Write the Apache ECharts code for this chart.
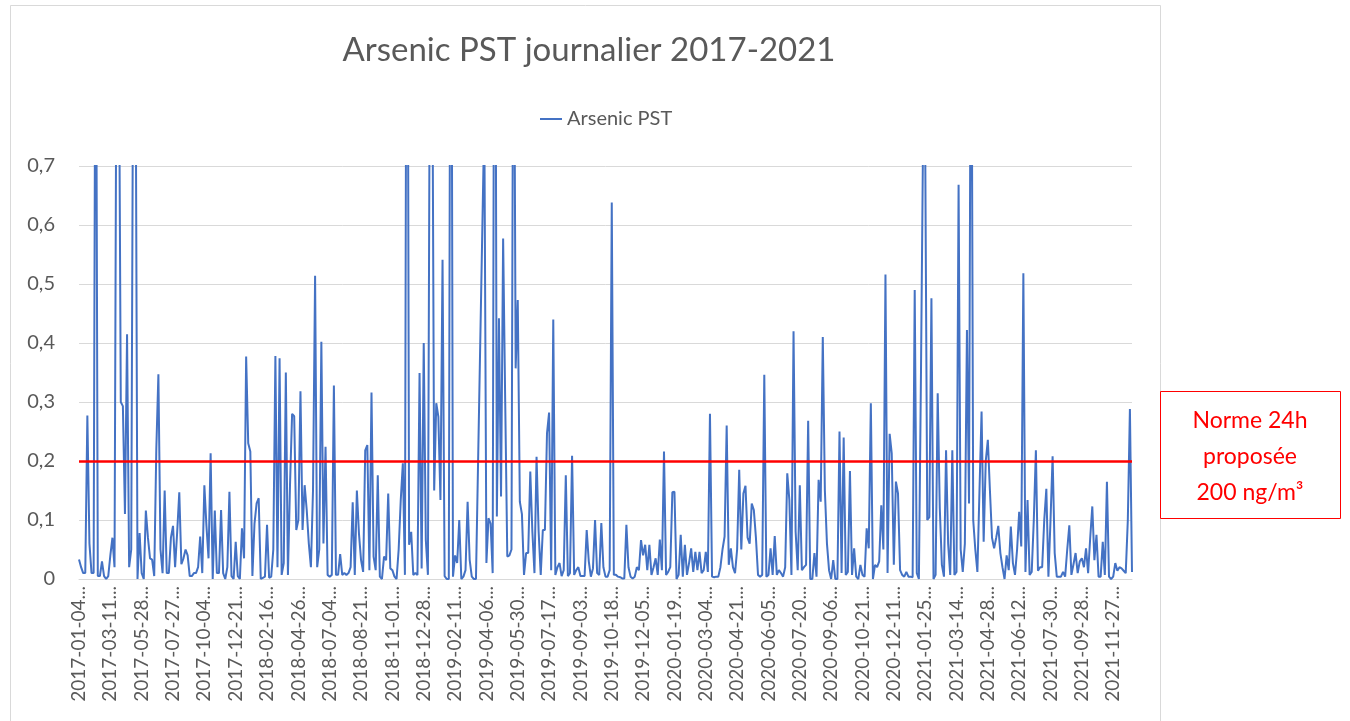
<!DOCTYPE html>
<html>
<head>
<meta charset="utf-8">
<script src="https://cdn.jsdelivr.net/npm/echarts@6/dist/echarts.min.js"></script>
<style>
  html, body { margin: 0; padding: 0; background: #fff; }
  #chart { width: 1350px; height: 721px; }
</style>
</head>
<body>
<div id="chart"></div>
<script>
// one label every 15 samples, as in the source sheet
const LABEL_STEP = 15;

const tickLabels = [
  '2017-01-04', '2017-03-11', '2017-05-28', '2017-07-27', '2017-10-04', '2017-12-21',
  '2018-02-16', '2018-04-26', '2018-07-04', '2018-08-21', '2018-11-01', '2018-12-28',
  '2019-02-11', '2019-04-06', '2019-05-30', '2019-07-17', '2019-09-03', '2019-10-18',
  '2019-12-05', '2020-01-19', '2020-03-04', '2020-04-21', '2020-06-05', '2020-07-20',
  '2020-09-06', '2020-10-21', '2020-12-11', '2021-01-25', '2021-03-14', '2021-04-28',
  '2021-06-12', '2021-07-30', '2021-09-28', '2021-11-27'
];

const yTicks = [0, 0.1, 0.2, 0.3, 0.4, 0.5, 0.6, 0.7];

// proposed 24h standard (ug/m3 -> 200 ng/m3)
const normValue = 0.2;

// Arsenic PST, one row per label period (null = no sample)
const arsenicPST = [
  0.033, 0.02, 0.01, 0.01, 0.277, 0.06, 0.01, 0.01, 1.2, 0.005, 0.005, 0.03, 0.005, 0.0, 0.005,
  0.04, 0.07, 0.02, 1.0, 1.0, 0.30, 0.293, 0.11, 0.415, 0.02, 0.05, 1.0, 1.0, 0.0, 0.078,
  0.01, 0.0, 0.116, 0.07, 0.035, 0.033, 0.005, 0.22, 0.347, 0.05, 0.01, 0.15, 0.01, 0.01, 0.07,
  0.09, 0.02, 0.08, 0.147, 0.025, 0.035, 0.05, 0.04, 0.005, 0.005, 0.01, 0.01, 0.02, 0.072, 0.01,
  0.159, 0.09, 0.035, 0.213, 0.0, 0.116, 0.01, 0.01, 0.117, 0.01, 0.0, 0.02, 0.148, 0.005, 0.0,
  0.063, 0.005, 0.0, 0.086, 0.035, 0.377, 0.23, 0.216, 0.005, 0.094, 0.128, 0.137, 0.0, 0.002, 0.004,
  0.092, 0.002, 0.004, 0.05, 0.378, 0.02, 0.374, 0.007, 0.027, 0.35, 0.007, 0.16, 0.28, 0.276, 0.083,
  0.1, 0.318, 0.083, 0.159, 0.117, 0.06, 0.02, 0.15, 0.514, 0.02, 0.05, 0.402, 0.06, 0.224, 0.007,
  0.004, 0.007, 0.328, 0.007, 0.007, 0.042, 0.007, 0.01, 0.007, 0.01, 0.02, 0.13, 0.007, 0.15, 0.077,
  0.032, 0.012, 0.218, 0.227, 0.015, 0.316, 0.038, 0.015, 0.176, 0.004, 0.0, 0.038, 0.032, 0.145, 0.018,
  0.015, 0.004, 0.0, 0.05, 0.134, 0.196, 0.007, 1.5, 0.058, 0.08, 0.007, 0.01, 0.007, 0.349, 0.018,
  0.4, 0.066, 0.007, 1.0, 1.0, 0.15, 0.298, 0.275, 0.134, 0.541, 0.005, 0.0, 0.0, 1.5, 0.004,
  0.04, 0.027, 0.1, 0.0, 0.004, 0.015, 0.131, 0.032, 0.004, 0.0, 0.0, null, null, null, 0.78,
  0.027, 0.103, 0.094, 0.01, 1.5, 0.106, 0.442, 0.14, 0.577, 0.3, 0.038, 0.04, 0.05, 1.2, 0.357,
  0.473, 0.131, 0.11, 0.007, 0.044, 0.044, 0.182, 0.08, 0.01, 0.207, 0.08, 0.007, 0.083, 0.083, 0.247,
  0.282, 0.015, 0.44, 0.007, 0.02, 0.027, 0.005, 0.015, 0.176, 0.005, 0.01, 0.209, 0.007, 0.015, 0.02,
  0.005, 0.005, 0.005, 0.083, 0.03, 0.004, 0.018, 0.1, 0.01, 0.007, 0.095, 0.02, 0.004, 0.004, 0.015,
  0.638, 0.007, 0.007, 0.004, 0.003, 0.001, 0.001, 0.092, 0.02, 0.004, 0.001, 0.004, 0.02, 0.015, 0.066,
  0.04, 0.058, 0.015, 0.058, 0.007, 0.02, 0.035, 0.007, 0.067, 0.015, 0.216, 0.007, 0.012, 0.02, 0.147,
  0.148, 0.0, 0.007, 0.075, 0.004, 0.058, 0.007, 0.027, 0.052, 0.012, 0.046, 0.015, 0.046, 0.01, 0.015,
  0.046, 0.012, 0.28, 0.004, 0.003, 0.004, 0.004, 0.02, 0.05, 0.072, 0.26, 0.024, 0.052, 0.02, 0.01,
  0.05, 0.185, 0.05, 0.145, 0.158, 0.07, 0.06, 0.128, 0.117, 0.07, 0.007, 0.004, 0.007, 0.346, 0.004,
  0.007, 0.052, 0.007, 0.073, 0.007, 0.015, 0.01, 0.004, 0.02, 0.179, 0.134, 0.007, 0.42, 0.08, 0.015,
  0.159, 0.015, 0.02, 0.024, 0.268, 0.0, 0.0, 0.044, 0.004, 0.168, 0.131, 0.41, 0.15, 0.06, 0.015,
  0.0, 0.032, 0.0, 0.0, 0.25, 0.01, 0.24, 0.007, 0.012, 0.183, 0.007, 0.052, 0.004, 0.0, 0.024,
  0.007, 0.004, 0.086, 0.052, 0.298, 0.0, 0.024, 0.02, 0.03, 0.125, 0.05, 0.516, 0.01, 0.246, 0.213,
  0.024, 0.165, 0.145, 0.015, 0.007, 0.004, 0.012, 0.004, 0.004, 0.003, 0.49, 0.01, 0.0, 0.35, 0.75,
  0.75, 0.1, 0.105, 0.476, 0.0, 0.007, 0.315, 0.12, 0.024, 0.004, 0.218, 0.06, 0.007, 0.218, 0.007,
  0.012, 0.668, 0.05, 0.012, 0.06, 0.422, 0.128, 1.2, 0.1, 0.05, 0.012, 0.15, 0.284, 0.063, 0.2,
  0.236, 0.15, 0.07, 0.052, 0.07, 0.09, 0.044, 0.02, 0.0, 0.04, 0.015, 0.089, 0.027, 0.007, 0.05,
  0.114, 0.055, 0.518, 0.012, 0.134, 0.007, 0.012, 0.1, 0.218, 0.014, 0.02, 0.02, 0.1, 0.153, 0.004,
  0.1, 0.208, 0.044, 0.004, 0.004, 0.004, 0.012, 0.004, 0.05, 0.091, 0.007, 0.025, 0.044, 0.01, 0.03,
  0.035, 0.02, 0.052, 0.01, 0.07, 0.123, 0.032, 0.075, 0.004, 0.004, 0.063, 0.007, 0.165, 0.004, 0.0,
  0.004, 0.027, 0.014, 0.02, 0.018, 0.014, 0.01, 0.1, 0.288, 0.012
];

const categories = arsenicPST.map((_, i) => String(i));

const FONT = 'Lato, "Open Sans", sans-serif';
const GREY = '#595959';

const chart = echarts.init(document.getElementById('chart'), null, { renderer: 'canvas' });

chart.setOption({
  animation: false,
  backgroundColor: '#fff',
  textStyle: { fontFamily: FONT },
  title: {
    text: 'Arsenic PST journalier 2017-2021',
    left: 584,
    textAlign: 'center',
    top: 29,
    textStyle: { fontFamily: FONT, fontSize: 33, fontWeight: 'normal', color: GREY }
  },
  legend: {
    data: ['Arsenic PST'],
    left: 535,
    top: 104,
    icon: 'rect',
    itemWidth: 22,
    itemHeight: 2,
    itemGap: 6,
    textStyle: { fontFamily: FONT, fontSize: 20, color: GREY }
  },
  grid: {
    left: 79,
    right: 218,
    top: 166,
    bottom: 142,
    containLabel: false
  },
  xAxis: {
    type: 'category',
    data: categories,
    boundaryGap: false,
    axisLine: { lineStyle: { color: '#d9d9d9', width: 1 } },
    axisTick: { show: false },
    splitLine: { show: false },
    axisLabel: {
      rotate: 90,
      interval: LABEL_STEP - 1,
      margin: 7,
      fontFamily: FONT,
      fontSize: 19,
      color: GREY,
      formatter: (value, index) => {
        const k = index / LABEL_STEP;
        return Number.isInteger(k) && tickLabels[k] ? tickLabels[k] + '...' : '';
      }
    }
  },
  yAxis: {
    type: 'value',
    min: yTicks[0],
    max: yTicks[yTicks.length - 1],
    interval: 0.1,
    axisLine: { show: false },
    axisTick: { show: false },
    splitLine: { lineStyle: { color: '#d9d9d9', width: 1 } },
    axisLabel: {
      margin: 24,
      fontFamily: FONT,
      fontSize: 20,
      color: GREY,
      formatter: (v) => (v === 0 ? '0' : v.toFixed(1).replace('.', ','))
    }
  },
  series: [
    {
      name: 'Arsenic PST',
      type: 'line',
      data: arsenicPST,
      symbol: 'none',
      connectNulls: true,
      clip: true,
      color: '#4472C4',
      lineStyle: { color: '#4472C4', width: 2 },
      markLine: {
        silent: true,
        symbol: ['none', 'none'],
        label: { show: false },
        lineStyle: { color: '#ff0000', width: 2.5, type: 'solid' },
        data: [{ yAxis: normValue }]
      }
    }
  ],
  graphic: [
    {
      type: 'rect',
      silent: true,
      z: -1,
      shape: { x: 10.5, y: 5.5, width: 1150, height: 740 },
      style: { fill: 'none', stroke: '#d9d9d9', lineWidth: 1 }
    },
    {
      type: 'group',
      left: 1160,
      top: 391,
      children: [
        {
          type: 'rect',
          shape: { x: 0.5, y: 0.5, width: 180, height: 127 },
          style: { fill: '#fff', stroke: '#ff0000', lineWidth: 1 }
        },
        {
          type: 'text',
          x: 90,
          y: 66,
          style: {
            text: 'Norme 24h\nproposée\n200 ng/m³',
            fill: '#ff0000',
            font: '23px ' + FONT,
            lineHeight: 36,
            align: 'center',
            verticalAlign: 'middle'
          }
        }
      ]
    }
  ]
});
</script>
</body>
</html>
